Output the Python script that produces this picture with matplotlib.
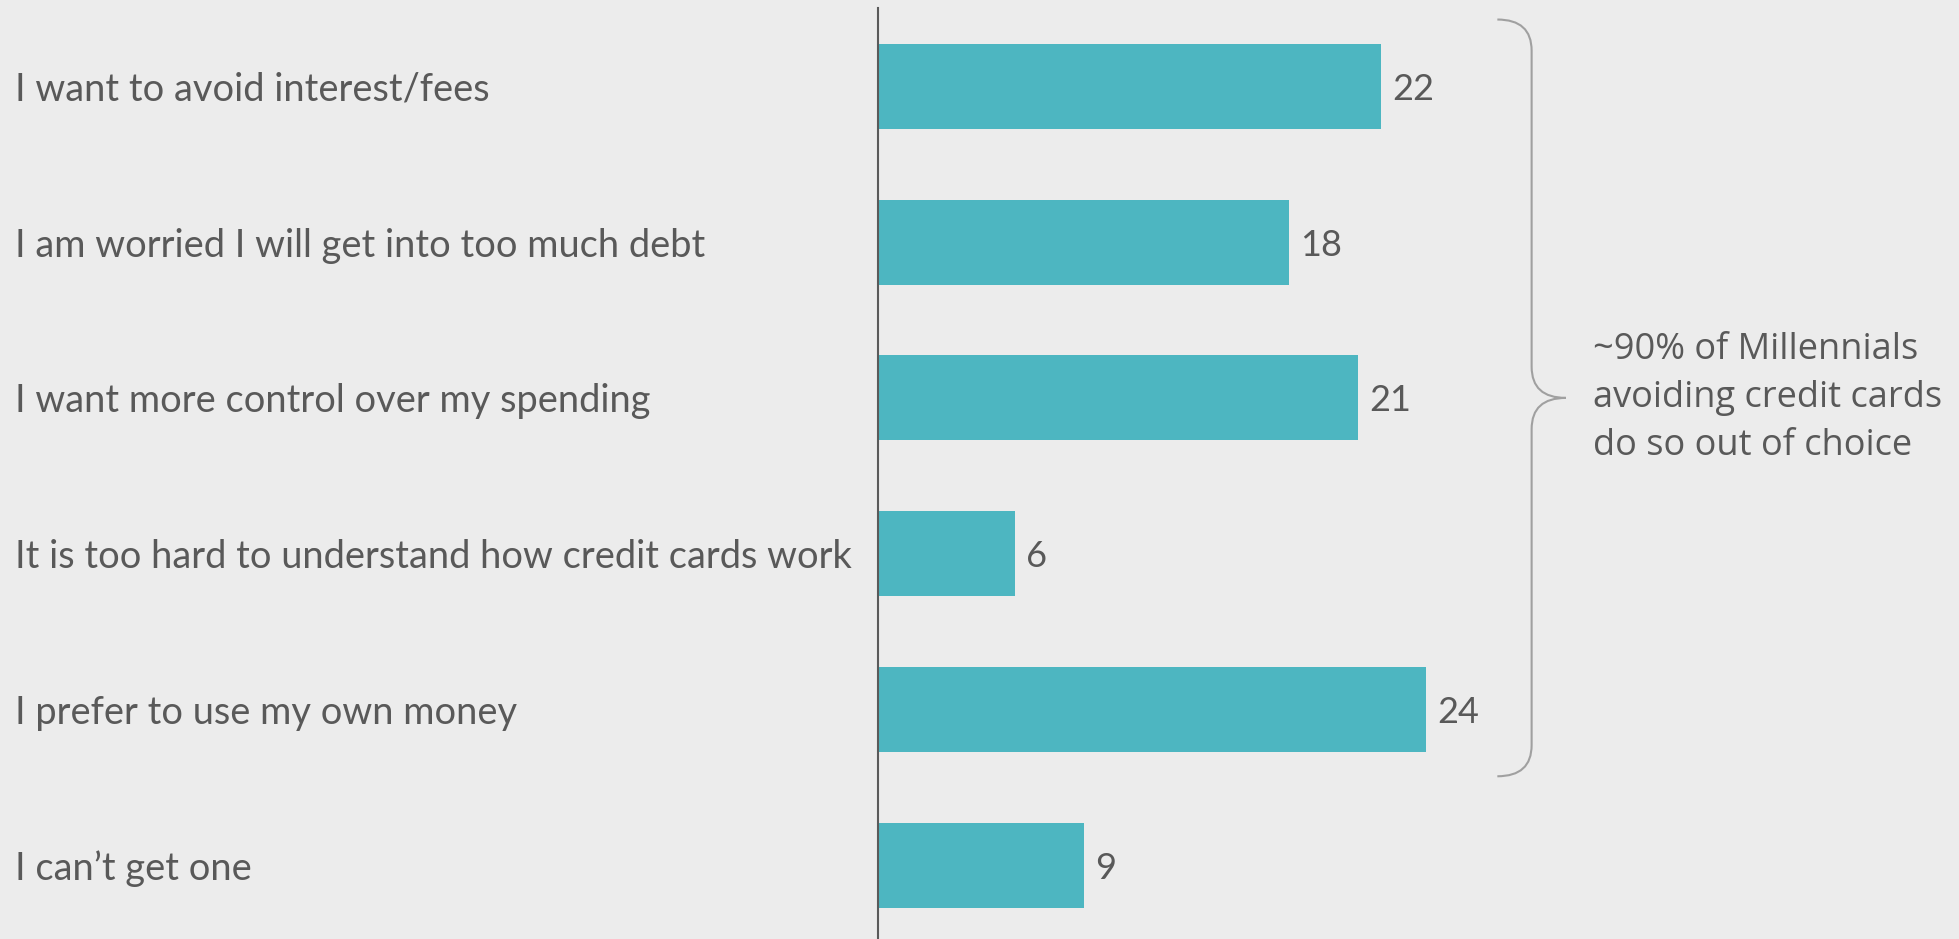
import matplotlib.pyplot as plt
from matplotlib.path import Path
from matplotlib.patches import PathPatch
from matplotlib.transforms import blended_transform_factory

# reasons for not having a credit card
reasons = [
    'I want to avoid interest/fees',
    'I am worried I will get into too much debt',
    'I want more control over my spending',
    'It is too hard to understand how credit cards work',
    'I prefer to use my own money',
    'I can\u2019t get one',
]
values = [22, 18, 21, 6, 24, 9]

note = '~90% of Millennials\navoiding credit cards\ndo so out of choice'

bg = '#ECECEC'
bar_col = '#4DB6C1'
txt_col = '#595959'

figure = plt.figure(figsize=(19.59, 9.39), dpi=100, facecolor=bg)
ax = figure.add_axes([878 / 1959, 0, 1 - 878 / 1959, (939 - 8) / 939])
ax.set_facecolor(bg)

pos = list(range(len(reasons)))
ax.barh(pos, values, height=0.546, color=bar_col)

ax.set_xlim(0, 47.3)
ax.set_ylim(5.475, -0.504)

for s in ['top', 'right', 'bottom']:
    ax.spines[s].set_visible(False)
ax.spines['left'].set_color('#5a5a5a')
ax.spines['left'].set_linewidth(1.5)
ax.set_xticks([])
ax.set_yticks([])

# category labels on the far left
trans = blended_transform_factory(figure.transFigure, ax.transData)
for p, r in zip(pos, reasons):
    ax.text(15 / 1959, p, r, transform=trans, ha='left', va='center_baseline',
            fontsize=27.4, color=txt_col, family='Lato')

# value labels
for p, v in zip(pos, values):
    ax.annotate(str(v), (v, p), xytext=(8, 0), textcoords='offset points',
                ha='left', va='center_baseline', fontsize=26, color=txt_col,
                family='Lato')

# curly brace over the first five reasons
top, bot, mid = -0.43, 4.43, 2.0
x0, x1, x2 = 27.1, 28.6, 30.1
r = 0.2
verts = [
    (x0, top), (x1, top), (x1, top + r),
    (x1, mid - r),
    (x1, mid), (x2, mid),
    (x1, mid), (x1, mid + r),
    (x1, bot - r),
    (x1, bot), (x0, bot),
]
codes = [Path.MOVETO, Path.CURVE3, Path.CURVE3,
         Path.LINETO,
         Path.CURVE3, Path.CURVE3,
         Path.CURVE3, Path.CURVE3,
         Path.LINETO,
         Path.CURVE3, Path.CURVE3]
brace = PathPatch(Path(verts, codes), fill=False, edgecolor='#a0a0a0',
                  linewidth=1.5, clip_on=False)
ax.add_patch(brace)

ax.text(31.3, mid, note, ha='left', va='center', fontsize=26,
        color=txt_col, family='Open Sans', linespacing=1.45)

plt.savefig('out.png', dpi=100, facecolor=bg)
